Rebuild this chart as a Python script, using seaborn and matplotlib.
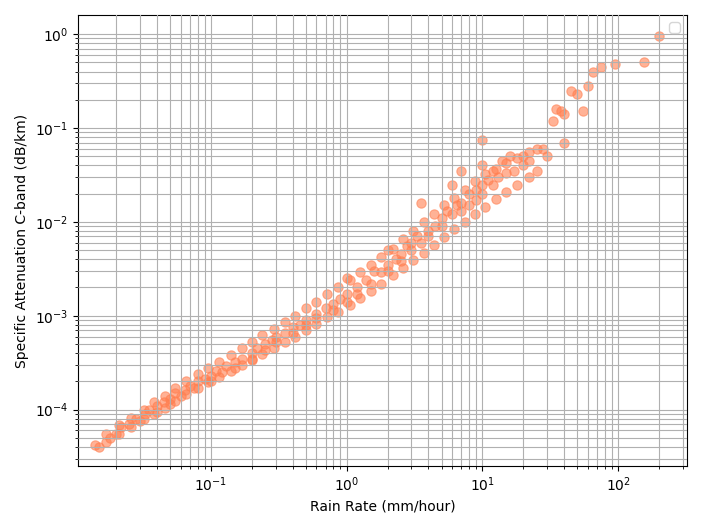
import numpy as np
import pandas as pd
import matplotlib
matplotlib.use('Agg')
import matplotlib.pyplot as plt
import seaborn as sns

# values (rain rate, specific attenuation)
rain_rate = [0.014, 0.015, 0.018, 0.02, 0.022, 0.025, 0.028, 0.03, 0.033, 0.035,
             0.04, 0.04, 0.045, 0.05, 0.05, 0.055, 0.06, 0.065, 0.07, 0.075,
             0.08, 0.09, 0.1, 0.1, 0.11, 0.12, 0.13, 0.15, 0.15, 0.17,
             0.2, 0.2, 0.22, 0.25, 0.25, 0.28, 0.3, 0.3, 0.35, 0.4,
             0.4, 0.45, 0.5, 0.5, 0.6, 0.6, 0.7, 0.8, 0.8, 0.9,
             1.0, 1.0, 1.0, 1.2, 1.2, 1.4, 1.5, 1.6, 1.8, 2.0,
             2.0, 2.0, 2.3, 2.5, 2.5, 2.8, 3.0, 3.0, 3.3, 3.5,
             3.5, 4.0, 4.0, 4.5, 5.0, 5.0, 5.5, 6.0, 6.0, 6.5,
             7.0, 7.0, 7.0, 8.0, 8.0, 9.0, 9.0, 10, 10, 10,
             10, 11, 12, 12, 13, 14, 15, 16, 17, 20,
             20, 22, 25, 25, 28, 30, 33, 35, 38, 40,
             40, 45, 50, 55, 60, 65, 75, 95, 155, 200]
attenuation = [4.2e-5, 4.0e-5, 5e-5, 5.5e-5, 6.5e-5, 7e-5, 8e-5, 7.5e-5, 9e-5, 1.0e-4,
               1.1e-4, 9.5e-5, 1.2e-4, 1.3e-4, 1.15e-4, 1.5e-4, 1.4e-4, 1.6e-4, 1.8e-4, 1.7e-4,
               2.0e-4, 2.1e-4, 2.3e-4, 2.0e-4, 2.6e-4, 2.5e-4, 2.9e-4, 3.2e-4, 2.8e-4, 3.5e-4,
               4.0e-4, 3.5e-4, 4.5e-4, 5.0e-4, 4.3e-4, 5.5e-4, 6.0e-4, 5.2e-4, 6.5e-4, 7.5e-4,
               6.5e-4, 8e-4, 9e-4, 8e-4, 1.05e-3, 9.5e-4, 1.2e-3, 1.35e-3, 1.15e-3, 1.5e-3,
               1.7e-3, 1.4e-3, 2.5e-3, 2.0e-3, 1.7e-3, 2.4e-3, 2.2e-3, 3.0e-3, 2.9e-3, 3.5e-3,
               3.0e-3, 5e-3, 4e-3, 4.5e-3, 3.8e-3, 5.5e-3, 6e-3, 5e-3, 7e-3, 6e-3,
               1.6e-2, 8e-3, 7e-3, 9e-3, 1.1e-2, 9e-3, 1.3e-2, 1.2e-2, 2.5e-2, 1.5e-2,
               1.6e-2, 1.3e-2, 3.5e-2, 2e-2, 1.5e-2, 2.2e-2, 1.7e-2, 2.5e-2, 2e-2, 7.5e-2,
               4e-2, 2.8e-2, 2.5e-2, 3.5e-2, 3e-2, 4.5e-2, 3.3e-2, 5e-2, 3.5e-2, 4e-2,
               5e-2, 4.5e-2, 3.5e-2, 6e-2, 6e-2, 5e-2, 1.2e-1, 1.6e-1, 1.5e-1, 1.4e-1,
               7e-2, 2.5e-1, 2.3e-1, 1.5e-1, 2.8e-1, 4e-1, 4.5e-1, 4.8e-1, 5e-1, 9.5e-1]

# extra points along the upper and lower edges of the dense band
edge_rain = [0.017, 0.021, 0.026, 0.032, 0.038, 0.046, 0.055, 0.066, 0.08, 0.095,
             0.115, 0.14, 0.17, 0.2, 0.24, 0.29, 0.35, 0.42, 0.5, 0.6,
             0.72, 0.86, 1.05, 1.25, 1.5, 1.8, 2.2, 2.6, 3.1, 3.7,
             4.4, 5.2, 6.2, 7.4, 8.8, 10.5, 12.5, 15, 18, 22,
             0.017, 0.021, 0.026, 0.032, 0.038, 0.046, 0.055, 0.066, 0.08, 0.095,
             0.115, 0.14, 0.17, 0.2, 0.24, 0.29, 0.35, 0.42, 0.5, 0.6,
             0.72, 0.86, 1.05, 1.25, 1.5, 1.8, 2.2, 2.6, 3.1, 3.7,
             4.4, 5.2, 6.2, 7.4, 8.8, 10.5, 12.5, 15, 18, 22]
edge_att = [5.5e-5, 6.8e-5, 8.2e-5, 1.0e-4, 1.2e-4, 1.4e-4, 1.7e-4, 2.0e-4, 2.4e-4, 2.8e-4,
            3.2e-4, 3.8e-4, 4.5e-4, 5.3e-4, 6.2e-4, 7.3e-4, 8.6e-4, 1.0e-3, 1.2e-3, 1.4e-3,
            1.7e-3, 2.0e-3, 2.4e-3, 2.9e-3, 3.5e-3, 4.2e-3, 5.2e-3, 6.5e-3, 8e-3, 1.0e-2,
            1.2e-2, 1.5e-2, 1.8e-2, 2.2e-2, 2.7e-2, 3.2e-2, 3.7e-2, 4.2e-2, 4.8e-2, 5.5e-2,
            4.5e-5, 5.5e-5, 6.5e-5, 8e-5, 9e-5, 1.05e-4, 1.25e-4, 1.45e-4, 1.7e-4, 1.95e-4,
            2.25e-4, 2.6e-4, 3.0e-4, 3.4e-4, 3.9e-4, 4.5e-4, 5.2e-4, 6.0e-4, 7.0e-4, 8.2e-4,
            9.6e-4, 1.1e-3, 1.3e-3, 1.55e-3, 1.85e-3, 2.2e-3, 2.7e-3, 3.2e-3, 3.9e-3, 4.7e-3,
            5.7e-3, 6.9e-3, 8.3e-3, 1.0e-2, 1.2e-2, 1.45e-2, 1.75e-2, 2.1e-2, 2.5e-2, 3.0e-2]

df = pd.DataFrame({'rain': rain_rate + edge_rain, 'att': attenuation + edge_att})

fig, ax = plt.subplots(figsize=(7.02, 5.29), dpi=100)
sns.scatterplot(data=df, x='rain', y='att', color='coral', alpha=0.6,
                s=45, edgecolor='coral', linewidth=0.8, ax=ax)
ax.set_xscale('log')
ax.set_yscale('log')
ax.set_xlim(0.0105, 320)
ax.set_ylim(2.5e-5, 1.6)
ax.grid(True, which='both', color='#b0b0b0', linewidth=0.8)
ax.set_axisbelow(False)
ax.set_xlabel('Rain Rate (mm/hour)')
ax.set_ylabel('Specific Attenuation C-band (dB/km)')
ax.legend(handles=[], loc='upper right')
plt.tight_layout()
plt.savefig('out.png', dpi=100)
